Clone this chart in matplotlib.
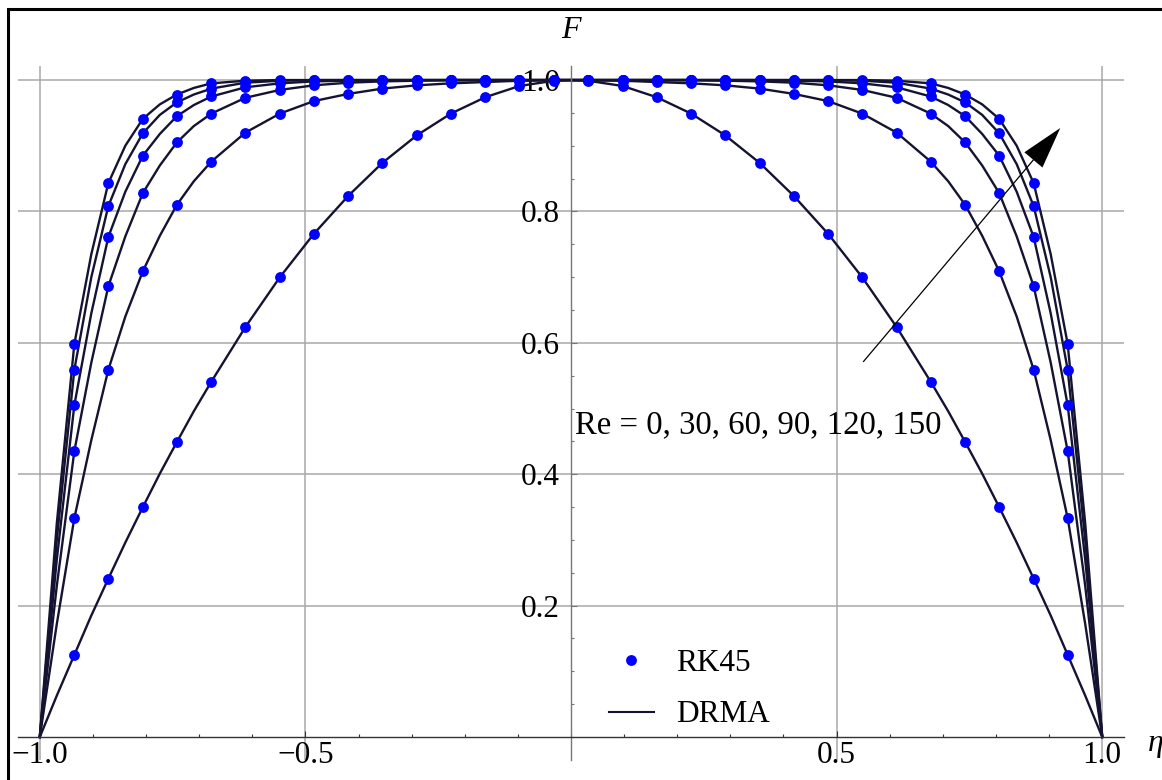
import numpy as np
import matplotlib
matplotlib.use("Agg")
import matplotlib.pyplot as plt
from matplotlib.ticker import MultipleLocator, FixedLocator
from matplotlib.patches import Rectangle

plt.rcParams['font.family'] = ['Liberation Serif', 'DejaVu Serif']

# RK45 sample positions (eta) and values
eta_dots = [-0.935, -0.871, -0.806, -0.742, -0.677, -0.613, -0.548, -0.484,
            -0.419, -0.355, -0.290, -0.226, -0.161, -0.097, -0.032,
            0.032, 0.097, 0.161, 0.226, 0.290, 0.355, 0.419, 0.484,
            0.548, 0.613, 0.677, 0.742, 0.806, 0.871, 0.935]

rk_re0 = [0.125, 0.241, 0.350, 0.449, 0.541, 0.624, 0.700, 0.766, 0.824, 0.874,
          0.916, 0.949, 0.974, 0.991, 0.999,
          0.999, 0.991, 0.974, 0.949, 0.916, 0.874, 0.824, 0.766, 0.700, 0.624,
          0.541, 0.449, 0.350, 0.241, 0.125]
rk_re30 = [0.333, 0.559, 0.709, 0.810, 0.876, 0.920, 0.949, 0.968, 0.979, 0.987,
           0.992, 0.995, 0.997, 0.999, 1.000,
           1.000, 0.999, 0.997, 0.995, 0.992, 0.987, 0.979, 0.968, 0.949, 0.920,
           0.876, 0.810, 0.709, 0.559, 0.333]
rk_re60 = [0.435, 0.686, 0.828, 0.905, 0.949, 0.973, 0.985, 0.992, 0.996, 0.998,
           0.999, 1.000, 1.000, 1.000, 1.000,
           1.000, 1.000, 1.000, 1.000, 0.999, 0.998, 0.996, 0.992, 0.985, 0.973,
           0.949, 0.905, 0.828, 0.686, 0.435]
rk_re90 = [0.505, 0.761, 0.885, 0.945, 0.975, 0.989, 0.995, 0.998, 0.999, 1.000,
           1.000, 1.000, 1.000, 1.000, 1.000,
           1.000, 1.000, 1.000, 1.000, 1.000, 1.000, 0.999, 0.998, 0.995, 0.989,
           0.975, 0.945, 0.885, 0.761, 0.505]
rk_re120 = [0.559, 0.808, 0.919, 0.966, 0.987, 0.996, 0.999, 1.000, 1.000, 1.000,
            1.000, 1.000, 1.000, 1.000, 1.000,
            1.000, 1.000, 1.000, 1.000, 1.000, 1.000, 1.000, 1.000, 0.999, 0.996,
            0.987, 0.966, 0.919, 0.808, 0.559]
rk_re150 = [0.598, 0.843, 0.941, 0.978, 0.995, 0.999, 1.000, 1.000, 1.000, 1.000,
            1.000, 1.000, 1.000, 1.000, 1.000,
            1.000, 1.000, 1.000, 1.000, 1.000, 1.000, 1.000, 1.000, 1.000, 0.999,
            0.995, 0.978, 0.941, 0.843, 0.598]

# DRMA curves, read on a finer grid near the walls
eta_line = [-1.000, -0.968, -0.935, -0.903, -0.871, -0.839, -0.806, -0.774, -0.742,
            -0.710, -0.677, -0.613, -0.548, -0.484, -0.419, -0.355, -0.290, -0.226,
            -0.161, -0.097, -0.032, 0.000, 0.032, 0.097, 0.161, 0.226, 0.290, 0.355,
            0.419, 0.484, 0.548, 0.613, 0.677, 0.710, 0.742, 0.774, 0.806, 0.839,
            0.871, 0.903, 0.935, 0.968, 1.000]

dr_re0 = [0, 0.063, 0.125, 0.185, 0.241, 0.296, 0.350, 0.401, 0.449, 0.496, 0.541,
          0.624, 0.700, 0.766, 0.824, 0.874, 0.916, 0.949, 0.974, 0.991, 0.999, 1.000,
          0.999, 0.991, 0.974, 0.949, 0.916, 0.874, 0.824, 0.766, 0.700, 0.624,
          0.541, 0.496, 0.449, 0.401, 0.350, 0.296, 0.241, 0.185, 0.125, 0.063, 0]
dr_re30 = [0, 0.172, 0.333, 0.452, 0.559, 0.640, 0.709, 0.763, 0.810, 0.846, 0.876,
           0.920, 0.949, 0.968, 0.979, 0.987, 0.992, 0.995, 0.997, 0.999, 1.000, 1.000,
           1.000, 0.999, 0.997, 0.995, 0.992, 0.987, 0.979, 0.968, 0.949, 0.920,
           0.876, 0.846, 0.810, 0.763, 0.709, 0.640, 0.559, 0.452, 0.333, 0.172, 0]
dr_re60 = [0, 0.230, 0.435, 0.570, 0.686, 0.762, 0.828, 0.870, 0.905, 0.930, 0.949,
           0.973, 0.985, 0.992, 0.996, 0.998, 0.999, 1.000, 1.000, 1.000, 1.000, 1.000,
           1.000, 1.000, 1.000, 1.000, 0.999, 0.998, 0.996, 0.992, 0.985, 0.973,
           0.949, 0.930, 0.905, 0.870, 0.828, 0.762, 0.686, 0.570, 0.435, 0.230, 0]
dr_re90 = [0, 0.270, 0.505, 0.645, 0.761, 0.830, 0.885, 0.918, 0.945, 0.962, 0.975,
           0.989, 0.995, 0.998, 0.999, 1.000, 1.000, 1.000, 1.000, 1.000, 1.000, 1.000,
           1.000, 1.000, 1.000, 1.000, 1.000, 1.000, 0.999, 0.998, 0.995, 0.989,
           0.975, 0.962, 0.945, 0.918, 0.885, 0.830, 0.761, 0.645, 0.505, 0.270, 0]
dr_re120 = [0, 0.300, 0.559, 0.700, 0.808, 0.872, 0.919, 0.947, 0.966, 0.978, 0.987,
            0.996, 0.999, 1.000, 1.000, 1.000, 1.000, 1.000, 1.000, 1.000, 1.000, 1.000,
            1.000, 1.000, 1.000, 1.000, 1.000, 1.000, 1.000, 1.000, 0.999, 0.996,
            0.987, 0.978, 0.966, 0.947, 0.919, 0.872, 0.808, 0.700, 0.559, 0.300, 0]
dr_re150 = [0, 0.325, 0.598, 0.735, 0.843, 0.900, 0.941, 0.963, 0.978, 0.988, 0.995,
            0.999, 1.000, 1.000, 1.000, 1.000, 1.000, 1.000, 1.000, 1.000, 1.000, 1.000,
            1.000, 1.000, 1.000, 1.000, 1.000, 1.000, 1.000, 1.000, 1.000, 0.999,
            0.995, 0.988, 0.978, 0.963, 0.941, 0.900, 0.843, 0.735, 0.598, 0.325, 0]

rk_all = [rk_re0, rk_re30, rk_re60, rk_re90, rk_re120, rk_re150]
dr_all = [dr_re0, dr_re30, dr_re60, dr_re90, dr_re120, dr_re150]

x_major = [-1.0, -0.5, 0.5, 1.0]
y_major = [0.2, 0.4, 0.6, 0.8, 1.0]

fig = plt.figure(figsize=(11.62, 7.80), dpi=100)
ax = fig.add_axes([0.0155, 0.0256, 0.9518, 0.8897])
ax.set_xlim(-1.041, 1.041)
ax.set_ylim(-0.035, 1.0213)

line_col = '#141432'
for dr in dr_all:
    ax.plot(eta_line, dr, color=line_col, lw=1.7, zorder=2, solid_joinstyle='round')
for rk in rk_all:
    ax.plot(eta_dots, rk, 'o', color='#0000ff', ms=7.8, mec='none', zorder=3)

# axes through the origin
for s in ['top', 'right']:
    ax.spines[s].set_visible(False)
ax.spines['left'].set_position(('data', 0))
ax.spines['bottom'].set_position(('data', 0))
ax.spines['left'].set_color('#777777')
ax.spines['bottom'].set_color('#333333')
ax.spines['left'].set_linewidth(1.0)
ax.spines['bottom'].set_linewidth(1.0)

ax.xaxis.set_major_locator(FixedLocator(x_major))
ax.yaxis.set_major_locator(FixedLocator(y_major))
ax.xaxis.set_minor_locator(MultipleLocator(0.1))
ax.yaxis.set_minor_locator(MultipleLocator(0.05))
ax.set_xticklabels(['\u22121.0', '\u22120.5', '0.5', '1.0'])
ax.set_yticklabels(['0.2', '0.4', '0.6', '0.8', '1.0'])
ax.tick_params(axis='x', which='both', direction='in', colors='#333333', labelcolor='black',
               labelsize=22.5, pad=3)
ax.tick_params(axis='y', which='both', direction='in', colors='#777777', labelcolor='black',
               labelsize=22.5, pad=8)
ax.tick_params(which='major', length=4, width=0.8)
ax.tick_params(which='minor', length=2.5, width=0.8)
ax.grid(True, which='major', color='#a8a8a8', lw=1.1)
ax.set_axisbelow(True)

ax.text(0, 1.075, 'F', ha='center', va='center', fontsize=23, fontstyle='italic',
        clip_on=False)
ax.text(1.10, -0.01, '\u03b7', ha='center', va='center', fontsize=23, fontstyle='italic',
        clip_on=False)

ax.text(0.0075, 0.463, 'Re = 0, 30, 60, 90, 120, 150', fontsize=23.6, va='baseline', ha='left')

ax.annotate('', xy=(0.921, 0.927), xytext=(0.550, 0.571),
            arrowprops=dict(width=0.9, headwidth=17, headlength=30, shrink=0,
                            facecolor='black', edgecolor='black', lw=0))

h_dot, = ax.plot([], [], 'o', color='#0000ff', ms=7.8, mec='none')
h_line, = ax.plot([], [], color=line_col, lw=1.5)
ax.legend([h_dot, h_line], ['RK45', 'DRMA'], loc='upper left', frameon=False,
          bbox_to_anchor=(0.513, 0.184), bbox_transform=fig.transFigure,
          borderaxespad=0, fontsize=22.5, handlelength=1.45, handletextpad=0.7,
          labelspacing=0.72, numpoints=1)

# thick frame around the picture (only top and left edge show)
fig.patches.append(Rectangle((7.5 / 1162, -0.1), 1.2, 1.1 - 9.5 / 780, fill=False,
                             lw=2.2, edgecolor='black', transform=fig.transFigure))

fig.savefig('out.png', dpi=100)
